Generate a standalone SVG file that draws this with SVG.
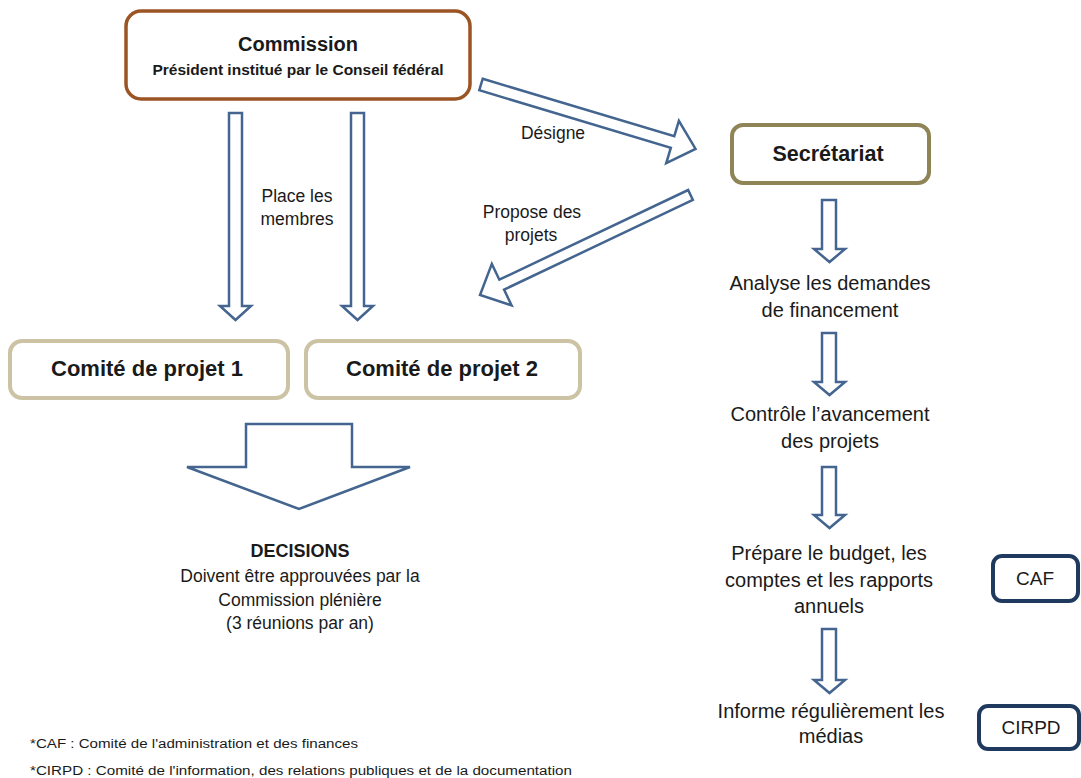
<svg xmlns="http://www.w3.org/2000/svg" width="1081" height="778" viewBox="0 0 1081 778">
<style>
text{font-family:"Liberation Sans",Arial,sans-serif;fill:#1a1a1a;text-anchor:middle}
.b{font-weight:bold}
.arr{fill:#fff;stroke:#44658f;stroke-width:2.5;stroke-linejoin:miter}
.lbl{font-size:17.5px}
.step{font-size:20px}
.tan{fill:#fff;stroke:#cbc3a3;stroke-width:4}
.navy{fill:#fff;stroke:#1f3a5e;stroke-width:4}
</style>
<rect width="1081" height="778" fill="#fff"/>

<g id="connectors">
  <path class="arr" d="M229,113 H242 V306 H251 L235.5,320 L220,306 H229 Z"/>
  <path class="arr" d="M351,113 H364 V306 H373 L357.5,320 L342,306 H351 Z"/>
  <path class="arr" transform="translate(481,84.5) rotate(16.7)" d="M0,-6 H200 V-22 L224,0 L200,22 V6 H0 Z"/>
  <path class="arr" transform="translate(690.5,195) rotate(154.6)" d="M0,-5.5 H209 V-23 L233,0 L209,23 V5.5 H0 Z"/>
  <path class="arr" d="M246,424 H352 V467 H410 L299,509 L187,467 H246 Z"/>
  <path class="arr" d="M822,200 H836 V249 H845 L829.5,262 L814,249 H822 Z"/>
  <path class="arr" d="M822,333 H836 V382 H845 L829.5,395 L814,382 H822 Z"/>
  <path class="arr" d="M822,467 H836 V515 H845 L829.5,528 L814,515 H822 Z"/>
  <path class="arr" d="M822,629 H836 V680 H845 L829.5,693 L814,680 H822 Z"/>
  <text class="lbl" x="297" y="202">Place les</text>
  <text class="lbl" x="297" y="225">membres</text>
  <text class="lbl" x="553" y="139">Désigne</text>
  <text class="lbl" x="532" y="218">Propose des</text>
  <text class="lbl" x="531" y="241">projets</text>
</g>

<g id="commission">
  <rect x="126" y="11" width="344" height="88" rx="15" fill="#fff" stroke="#9b5423" stroke-width="3.5"/>
  <text class="b" x="298" y="51" font-size="20">Commission</text>
  <text class="b" x="298" y="75" font-size="15.5">Président institué par le Conseil fédéral</text>
</g>

<g id="secretariat">
  <rect x="732" y="125" width="197" height="58" rx="11" fill="#fff" stroke="#8e8456" stroke-width="4"/>
  <text class="b" x="828" y="161" font-size="21.5">Secrétariat</text>
</g>

<g id="comite1">
  <rect class="tan" x="10" y="341" width="278" height="57" rx="12"/>
  <text class="b" x="147" y="376" font-size="22">Comité de projet 1</text>
</g>

<g id="comite2">
  <rect class="tan" x="306" y="341" width="274" height="57" rx="12"/>
  <text class="b" x="442" y="376" font-size="22">Comité de projet 2</text>
</g>

<g id="decisions">
  <text class="b" x="300" y="557" font-size="18">DECISIONS</text>
  <text x="300" y="582" font-size="17.5">Doivent être approuvées par la</text>
  <text x="300" y="606" font-size="17.5">Commission plénière</text>
  <text x="300" y="629" font-size="17.5">(3 réunions par an)</text>
</g>

<g id="analyse">
  <text class="step" x="830" y="290">Analyse les demandes</text>
  <text class="step" x="830" y="317">de financement</text>
</g>
<g id="controle">
  <text class="step" x="830" y="421">Contrôle l’avancement</text>
  <text class="step" x="830" y="448">des projets</text>
</g>
<g id="prepare">
  <text class="step" x="829" y="560">Prépare le budget, les</text>
  <text class="step" x="829" y="587">comptes et les rapports</text>
  <text class="step" x="829" y="613">annuels</text>
</g>
<g id="informe">
  <text class="step" x="831" y="718">Informe régulièrement les</text>
  <text class="step" x="831" y="743">médias</text>
</g>

<g id="caf">
  <rect class="navy" x="993" y="556" width="85" height="45" rx="9"/>
  <text x="1035" y="585" font-size="19">CAF</text>
</g>
<g id="cirpd">
  <rect class="navy" x="979" y="706" width="100" height="43" rx="9"/>
  <text x="1031" y="734" font-size="19">CIRPD</text>
</g>

<g id="footnotes">
  <text x="30" y="748" font-size="12.5" style="text-anchor:start" textLength="328" lengthAdjust="spacingAndGlyphs">*CAF : Comité de l'administration et des finances</text>
  <text x="30" y="775" font-size="12.5" style="text-anchor:start" textLength="542" lengthAdjust="spacingAndGlyphs">*CIRPD : Comité de l'information, des relations publiques et de la documentation</text>
</g>
</svg>
